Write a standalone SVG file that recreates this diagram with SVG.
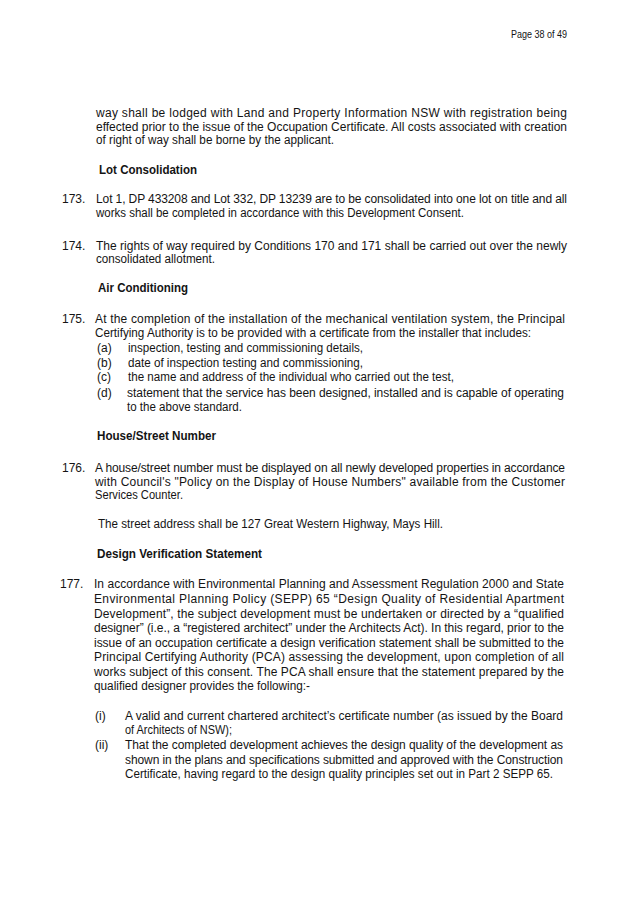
<svg xmlns="http://www.w3.org/2000/svg" width="637" height="923" viewBox="0 0 637 923">
<style>
text{font-family:"Liberation Sans",Arial,sans-serif;font-size:12px;fill:#141414}
.h{font-weight:bold}
.pg{font-size:10px}
</style>
<rect width="637" height="923" fill="#ffffff"/>
<g id="header"><text class="pg" x="511" y="38" textLength="56" lengthAdjust="spacingAndGlyphs">Page 38 of 49</text></g>
<g id="intro">
<text x="96" y="117.3" textLength="471" lengthAdjust="spacing">way shall be lodged with Land and Property Information NSW with registration being</text>
<text x="96" y="130.7" textLength="471" lengthAdjust="spacing">effected prior to the issue of the Occupation Certificate. All costs associated with creation</text>
<text x="96" y="143.8" textLength="238" lengthAdjust="spacingAndGlyphs">of right of way shall be borne by the applicant.</text>
</g>
<g id="lot">
<text class="h" x="99" y="174" textLength="98" lengthAdjust="spacingAndGlyphs">Lot Consolidation</text>
<text x="62" y="203.3">173.</text>
<text x="96" y="203.3" textLength="471" lengthAdjust="spacing">Lot 1, DP 433208 and Lot 332, DP 13239 are to be consolidated into one lot on title and all</text>
<text x="96" y="216.7" textLength="368" lengthAdjust="spacingAndGlyphs">works shall be completed in accordance with this Development Consent.</text>
<text x="62" y="250">174.</text>
<text x="96" y="250" textLength="471" lengthAdjust="spacing">The rights of way required by Conditions 170 and 171 shall be carried out over the newly</text>
<text x="96" y="263" textLength="119" lengthAdjust="spacingAndGlyphs">consolidated allotment.</text>
</g>
<g id="air">
<text class="h" x="98" y="292.3" textLength="90" lengthAdjust="spacingAndGlyphs">Air Conditioning</text>
<text x="62" y="323.3">175.</text>
<text x="95" y="323.3" textLength="470" lengthAdjust="spacing">At the completion of the installation of the mechanical ventilation system, the Principal</text>
<text x="95" y="337.3" textLength="436" lengthAdjust="spacingAndGlyphs">Certifying Authority is to be provided with a certificate from the installer that includes:</text>
<text x="97" y="352.3">(a)</text>
<text x="128" y="352.3" textLength="235" lengthAdjust="spacingAndGlyphs">inspection, testing and commissioning details,</text>
<text x="97" y="366.7">(b)</text>
<text x="128" y="366.7" textLength="235" lengthAdjust="spacingAndGlyphs">date of inspection testing and commissioning,</text>
<text x="97" y="381">(c)</text>
<text x="128" y="381" textLength="326" lengthAdjust="spacingAndGlyphs">the name and address of the individual who carried out the test,</text>
<text x="97" y="396.7">(d)</text>
<text x="127" y="396.7" textLength="437" lengthAdjust="spacing">statement that the service has been designed, installed and is capable of operating</text>
<text x="127" y="410.7" textLength="115" lengthAdjust="spacingAndGlyphs">to the above standard.</text>
</g>
<g id="house">
<text class="h" x="97" y="440" textLength="119" lengthAdjust="spacingAndGlyphs">House/Street Number</text>
<text x="62" y="471.7">176.</text>
<text x="95" y="471.7" textLength="470" lengthAdjust="spacing">A house/street number must be displayed on all newly developed properties in accordance</text>
<text x="95" y="485.7" textLength="470" lengthAdjust="spacing">with Council's "Policy on the Display of House Numbers" available from the Customer</text>
<text x="95" y="499" textLength="88" lengthAdjust="spacingAndGlyphs">Services Counter.</text>
<text x="98" y="528.3" textLength="345" lengthAdjust="spacingAndGlyphs">The street address shall be 127 Great Western Highway, Mays Hill.</text>
</g>
<g id="design">
<text class="h" x="97" y="558.3" textLength="165" lengthAdjust="spacingAndGlyphs">Design Verification Statement</text>
<text x="60" y="588.3">177.</text>
<text x="94" y="588.3" textLength="470" lengthAdjust="spacing">In accordance with Environmental Planning and Assessment Regulation 2000 and State</text>
<text x="94" y="603.3" textLength="470" lengthAdjust="spacing">Environmental Planning Policy (SEPP) 65 “Design Quality of Residential Apartment</text>
<text x="94" y="617.5" textLength="470" lengthAdjust="spacing">Development”, the subject development must be undertaken or directed by a “qualified</text>
<text x="94" y="631.7" textLength="470" lengthAdjust="spacing">designer” (i.e., a “registered architect” under the Architects Act).  In this regard, prior to the</text>
<text x="94" y="646.5" textLength="470" lengthAdjust="spacing">issue of an occupation certificate a design verification statement shall be submitted to the</text>
<text x="94" y="661" textLength="470" lengthAdjust="spacing">Principal Certifying Authority (PCA) assessing the development, upon completion of all</text>
<text x="94" y="675.5" textLength="470" lengthAdjust="spacing">works subject of this consent.   The PCA shall ensure that the statement prepared by the</text>
<text x="94" y="690" textLength="216" lengthAdjust="spacingAndGlyphs">qualified designer provides the following:-</text>
<text x="95" y="720">(i)</text>
<text x="125" y="720" textLength="438" lengthAdjust="spacing">A valid and current chartered architect’s certificate number (as issued by the Board</text>
<text x="125" y="734" textLength="107" lengthAdjust="spacingAndGlyphs">of Architects of NSW);</text>
<text x="95" y="749">(ii)</text>
<text x="125" y="749" textLength="438" lengthAdjust="spacing">That the completed development achieves the design quality of the development as</text>
<text x="125" y="763.5" textLength="438" lengthAdjust="spacing">shown in the plans and specifications submitted and approved with the Construction</text>
<text x="125" y="778.3" textLength="428" lengthAdjust="spacingAndGlyphs">Certificate, having regard to the design quality principles set out in Part 2 SEPP 65.</text>
</g>
</svg>
